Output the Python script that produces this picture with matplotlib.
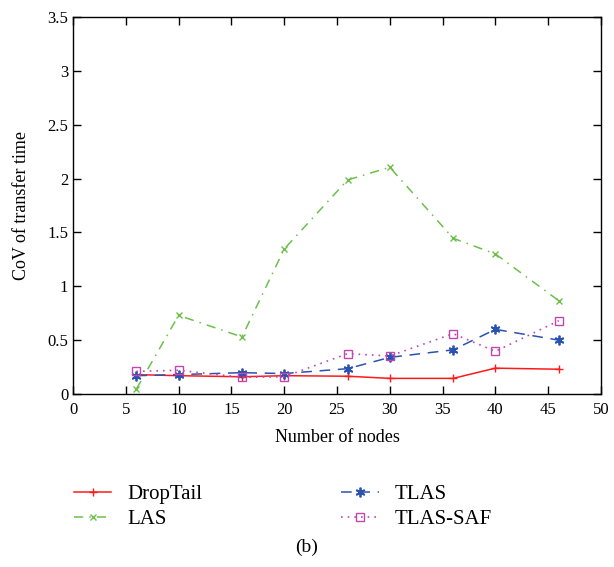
import matplotlib
matplotlib.use("Agg")
import matplotlib.pyplot as plt

nodes = [6, 10, 16, 20, 26, 30, 36, 40, 46]
droptail = [0.18, 0.17, 0.16, 0.17, 0.165, 0.145, 0.145, 0.24, 0.23]
las = [0.046, 0.73, 0.53, 1.346, 1.987, 2.105, 1.446, 1.30, 0.866]
tlas = [0.17, 0.18, 0.198, 0.19, 0.235, 0.34, 0.41, 0.60, 0.50]
tlas_saf = [0.21, 0.22, 0.155, 0.16, 0.374, 0.353, 0.56, 0.396, 0.68]

xticks = list(range(0, 51, 5))
yticks = [0, 0.5, 1, 1.5, 2, 2.5, 3, 3.5]
ytick_labels = ["0", "0.5", "1", "1.5", "2", "2.5", "3", "3.5"]

plt.rcParams['font.family'] = ['Liberation Serif', 'DejaVu Serif']

fig = plt.figure(figsize=(6.14, 5.67), dpi=100)
ax = fig.add_axes([73/614, 1 - 394/567, (601-73)/614, (394-17)/567])

ax.plot(nodes, droptail, color='#ff1a1a', linestyle='-', marker='+', markersize=6,
        linewidth=1.1, label='DropTail')
ax.plot(nodes, las, color='#6cc04a', linestyle=(0, (6, 4, 1, 4)), marker='x', markersize=5,
        linewidth=1.1, label='LAS')
ax.plot(nodes, tlas, color='#2a52b0', linestyle=(0, (7, 5)), marker=(6, 2, 0), markersize=7,
        markeredgewidth=1.3, linewidth=1.1, label='TLAS')
ax.plot(nodes, tlas_saf, color='#c048b0', linestyle=(0, (1, 3)), marker='s', markersize=6,
        markerfacecolor='none', linewidth=1.2, label='TLAS-SAF')

ax.set_xlim(0, 50)
ax.set_ylim(0, 3.5)
ax.set_xticks(xticks)
ax.set_yticks(yticks)
ax.set_yticklabels(ytick_labels)
ax.tick_params(direction='in', top=True, right=True, labelsize=12, length=6, width=1)
ax.tick_params(axis='x', pad=6)
for s in ax.spines.values():
    s.set_linewidth(1.0)

ax.set_xlabel('Number of nodes', fontsize=13, labelpad=8)
ax.set_ylabel('CoV of transfer time', fontsize=13, labelpad=12)

handles, labels = ax.get_legend_handles_labels()
fig.legend(handles, labels, ncol=2, frameon=False, fontsize=15,
           loc='upper left', bbox_to_anchor=(55/614, 1 - 466/567),
           columnspacing=6.7, handlelength=1.8, handletextpad=0.75, labelspacing=0.25)

fig.text(0.5, 1 - 547/567, '(b)', ha='center', va='center', fontsize=14)

fig.savefig('out.png', dpi=100)
